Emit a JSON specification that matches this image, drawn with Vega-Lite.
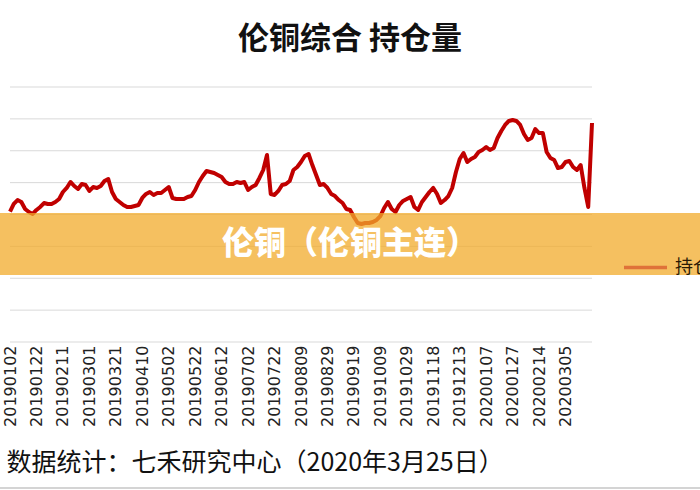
{
  "$schema": "https://vega.github.io/schema/vega-lite/v6.json",
  "width": 700,
  "height": 255,
  "autosize": {"type": "none"},
  "padding": {"left": 0, "top": 87, "right": 0, "bottom": 148},
  "background": "white",
  "title": {"text": "伦铜综合 持仓量", "font": "Noto Sans CJK SC", "fontSize": 31, "fontWeight": "bold", "color": "#111111", "anchor": "middle", "offset": 31},
  "config": {"view": {"stroke": null}},
  "datasets": {
    "grid": [{"level": 0}, {"level": 50000}, {"level": 100000}, {"level": 150000}, {"level": 200000}, {"level": 250000}, {"level": 300000}, {"level": 350000}, {"level": 400000}],
    "frame": [{"edge": -229000}],
    "oi": [
      {"date": "20190102", "oi": 204400}, {"date": "20190104", "oi": 216500}, {"date": "20190108", "oi": 222700}, {"date": "20190110", "oi": 219600},
      {"date": "20190114", "oi": 208600}, {"date": "20190116", "oi": 203900}, {"date": "20190118", "oi": 200800}, {"date": "20190122", "oi": 207100},
      {"date": "20190124", "oi": 211800}, {"date": "20190128", "oi": 218000}, {"date": "20190130", "oi": 216500}, {"date": "20190201", "oi": 216500},
      {"date": "20190205", "oi": 219600}, {"date": "20190207", "oi": 224300}, {"date": "20190211", "oi": 235300}, {"date": "20190213", "oi": 241600},
      {"date": "20190215", "oi": 251000}, {"date": "20190219", "oi": 244700}, {"date": "20190221", "oi": 240000}, {"date": "20190225", "oi": 247800},
      {"date": "20190227", "oi": 246300}, {"date": "20190301", "oi": 236900}, {"date": "20190305", "oi": 243100}, {"date": "20190307", "oi": 241600},
      {"date": "20190311", "oi": 244700}, {"date": "20190313", "oi": 252500}, {"date": "20190315", "oi": 255700}, {"date": "20190319", "oi": 235300},
      {"date": "20190321", "oi": 224300}, {"date": "20190325", "oi": 219600}, {"date": "20190327", "oi": 214900}, {"date": "20190329", "oi": 211800},
      {"date": "20190402", "oi": 211800}, {"date": "20190404", "oi": 213300}, {"date": "20190408", "oi": 214900}, {"date": "20190410", "oi": 225900},
      {"date": "20190412", "oi": 232200}, {"date": "20190416", "oi": 235300}, {"date": "20190418", "oi": 230600}, {"date": "20190424", "oi": 233700},
      {"date": "20190426", "oi": 233700}, {"date": "20190430", "oi": 238400}, {"date": "20190502", "oi": 243100}, {"date": "20190507", "oi": 225900},
      {"date": "20190509", "oi": 224300}, {"date": "20190513", "oi": 224300}, {"date": "20190515", "oi": 224300}, {"date": "20190517", "oi": 227400},
      {"date": "20190520", "oi": 229000}, {"date": "20190522", "oi": 238400}, {"date": "20190524", "oi": 251000}, {"date": "20190529", "oi": 260400},
      {"date": "20190531", "oi": 268200}, {"date": "20190604", "oi": 266700}, {"date": "20190606", "oi": 265100}, {"date": "20190610", "oi": 262000},
      {"date": "20190612", "oi": 258800}, {"date": "20190614", "oi": 251000}, {"date": "20190618", "oi": 247800}, {"date": "20190620", "oi": 247800},
      {"date": "20190624", "oi": 251000}, {"date": "20190626", "oi": 249400}, {"date": "20190628", "oi": 251000}, {"date": "20190702", "oi": 238400},
      {"date": "20190704", "oi": 243100}, {"date": "20190708", "oi": 246300}, {"date": "20190710", "oi": 257300}, {"date": "20190712", "oi": 269800},
      {"date": "20190716", "oi": 293300}, {"date": "20190718", "oi": 232200}, {"date": "20190722", "oi": 230600}, {"date": "20190724", "oi": 236900},
      {"date": "20190726", "oi": 246300}, {"date": "20190730", "oi": 247800}, {"date": "20190801", "oi": 252500}, {"date": "20190805", "oi": 269800},
      {"date": "20190807", "oi": 274500}, {"date": "20190809", "oi": 282300}, {"date": "20190813", "oi": 291800}, {"date": "20190815", "oi": 294900},
      {"date": "20190819", "oi": 277600}, {"date": "20190821", "oi": 262000}, {"date": "20190823", "oi": 246300}, {"date": "20190827", "oi": 247800},
      {"date": "20190829", "oi": 241600}, {"date": "20190902", "oi": 232200}, {"date": "20190904", "oi": 229000}, {"date": "20190906", "oi": 222700},
      {"date": "20190910", "oi": 218000}, {"date": "20190912", "oi": 208600}, {"date": "20190917", "oi": 207100}, {"date": "20190919", "oi": 196100},
      {"date": "20190923", "oi": 186700}, {"date": "20190925", "oi": 185100}, {"date": "20190927", "oi": 186700}, {"date": "20190930", "oi": 186700},
      {"date": "20191002", "oi": 188200}, {"date": "20191007", "oi": 191400}, {"date": "20191009", "oi": 197600}, {"date": "20191011", "oi": 210200},
      {"date": "20191015", "oi": 219600}, {"date": "20191017", "oi": 208600}, {"date": "20191021", "oi": 203900}, {"date": "20191023", "oi": 214900},
      {"date": "20191025", "oi": 221200}, {"date": "20191029", "oi": 224300}, {"date": "20191031", "oi": 227400}, {"date": "20191104", "oi": 211800},
      {"date": "20191106", "oi": 207100}, {"date": "20191108", "oi": 219600}, {"date": "20191112", "oi": 227400}, {"date": "20191114", "oi": 235300},
      {"date": "20191118", "oi": 241600}, {"date": "20191120", "oi": 232200}, {"date": "20191122", "oi": 218000}, {"date": "20191126", "oi": 222700},
      {"date": "20191129", "oi": 229000}, {"date": "20191203", "oi": 241600}, {"date": "20191209", "oi": 266700}, {"date": "20191213", "oi": 287100},
      {"date": "20191217", "oi": 296500}, {"date": "20191219", "oi": 282300}, {"date": "20191223", "oi": 287100}, {"date": "20191227", "oi": 290200},
      {"date": "20191231", "oi": 298000}, {"date": "20200103", "oi": 301200}, {"date": "20200107", "oi": 305900}, {"date": "20200109", "oi": 301200},
      {"date": "20200113", "oi": 304300}, {"date": "20200115", "oi": 320000}, {"date": "20200117", "oi": 331000}, {"date": "20200121", "oi": 340400},
      {"date": "20200123", "oi": 346700}, {"date": "20200127", "oi": 348200}, {"date": "20200129", "oi": 346700}, {"date": "20200131", "oi": 340400},
      {"date": "20200204", "oi": 326300}, {"date": "20200206", "oi": 316900}, {"date": "20200210", "oi": 320000}, {"date": "20200212", "oi": 334100},
      {"date": "20200214", "oi": 327800}, {"date": "20200218", "oi": 327800}, {"date": "20200220", "oi": 298000}, {"date": "20200224", "oi": 288600},
      {"date": "20200226", "oi": 285500}, {"date": "20200228", "oi": 272900}, {"date": "20200303", "oi": 274500}, {"date": "20200305", "oi": 282300},
      {"date": "20200309", "oi": 283900}, {"date": "20200311", "oi": 274500}, {"date": "20200313", "oi": 269800}, {"date": "20200317", "oi": 277600},
      {"date": "20200319", "oi": 241600}, {"date": "20200323", "oi": 211800}, {"date": "20200325", "oi": 343500}
    ],
    "banner": [{"lo": 105100, "hi": 202300, "pos": 153700, "label": "伦铜（伦铜主连）"}]
  },
  "layer": [
    {
      "data": {"name": "frame"},
      "mark": {"type": "rule", "color": "#D4D4D4", "strokeWidth": 2},
      "encoding": {
        "y": {"field": "edge", "type": "quantitative", "axis": null}
      }
    },
    {
      "data": {"name": "grid"},
      "mark": {"type": "rule", "color": "#D9D9D9", "strokeWidth": 1},
      "encoding": {
        "y": {"field": "level", "type": "quantitative", "scale": {"domain": [0, 400000], "nice": false}, "axis": null},
        "x": {"datum": "20190102", "type": "ordinal"},
        "x2": {"datum": "20200325"}
      }
    },
    {
      "data": {"name": "oi"},
      "mark": {"type": "line", "strokeWidth": 4, "strokeJoin": "round"},
      "encoding": {
        "x": {
          "field": "date", "type": "ordinal",
          "scale": {"type": "point", "range": [10, 592], "padding": 0},
          "axis": {
            "values": ["20190102", "20190122", "20190211", "20190301", "20190321", "20190410", "20190502", "20190522", "20190612", "20190702", "20190722", "20190809", "20190829", "20190919", "20191009", "20191029", "20191118", "20191213", "20200107", "20200127", "20200214", "20200305"],
            "title": "数据统计：七禾研究中心（2020年3月25日）",
            "labelAngle": -90, "labelFont": "DejaVu Sans", "labelFontSize": 16, "labelColor": "#222222",
            "labelPadding": 3, "labelOverlap": false, "ticks": false, "domain": false, "grid": false,
            "titleFont": "Noto Sans CJK SC", "titleFontSize": 25, "titleFontWeight": "normal", "titleColor": "#111111",
            "titleAnchor": "start", "titleAlign": "left", "titleBaseline": "middle", "titleX": 6, "titleY": 120
          }
        },
        "y": {"field": "oi", "type": "quantitative", "scale": {"domain": [0, 400000], "nice": false}, "axis": null},
        "color": {
          "datum": "持仓量",
          "scale": {"range": ["#C00000"]},
          "legend": {
            "orient": "none", "legendX": 622, "legendY": 157, "title": null, "padding": 0,
            "symbolType": "stroke", "symbolStrokeWidth": 3.5, "symbolSize": 1850, "symbolOpacity": 0.4,
            "labelFont": "Noto Sans CJK SC", "labelFontSize": 18, "labelColor": "#2A1A05", "labelOffset": 6
          }
        }
      }
    },
    {
      "data": {"name": "banner"},
      "mark": {"type": "rect", "color": "#F1AB2B", "opacity": 0.75},
      "encoding": {
        "y": {"field": "lo", "type": "quantitative", "axis": null},
        "y2": {"field": "hi"}
      }
    },
    {
      "data": {"name": "banner"},
      "mark": {"type": "text", "font": "Noto Sans CJK SC", "fontSize": 32, "fontWeight": 900, "color": "white", "baseline": "middle", "align": "center"},
      "encoding": {
        "y": {"field": "pos", "type": "quantitative", "axis": null},
        "text": {"field": "label"}
      }
    }
  ]
}
